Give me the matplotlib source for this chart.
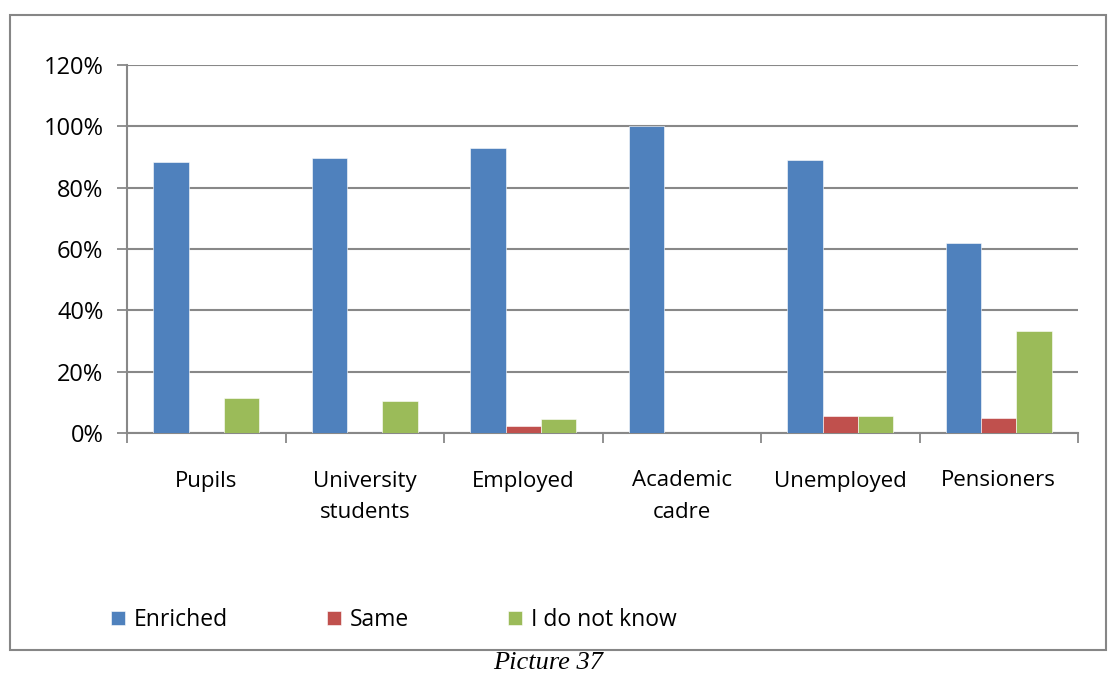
""" Opinion on enrichment by respondent group (Picture 37). """

import numpy as np
import matplotlib.pyplot as plt
from matplotlib.patches import Rectangle
from matplotlib.ticker import PercentFormatter, FixedLocator

categories = ['Pupils', 'University\nstudents', 'Employed', 'Academic\ncadre',
              'Unemployed', 'Pensioners']
enriched = [88.5, 89.7, 92.9, 100.0, 88.9, 61.9]
same = [0.0, 0.0, 2.4, 0.0, 5.6, 4.8]
dont_know = [11.5, 10.3, 4.7, 0.0, 5.6, 33.3]
series_names = ['Enriched', 'Same', 'I do not know']
colors = ['#4f81bd', '#c0504d', '#9bbb59']

plt.rcParams['font.family'] = ['Open Sans', 'DejaVu Sans']
grid_color = '#888888'

fig = plt.figure(figsize=(11.18, 6.73), dpi=100)
ax = fig.add_axes([127 / 1118, 1 - 433 / 673, 951 / 1118, 368 / 673])

x = np.arange(len(categories))
width = 0.222
for i, (vals, name, col) in enumerate(zip([enriched, same, dont_know], series_names, colors)):
    ax.bar(x + (i - 1) * width, np.array(vals) / 100, width, color=col, label=name,
           edgecolor='white', linewidth=0.4, zorder=3)

ax.set_xlim(-0.5, len(categories) - 0.5)
ax.set_ylim(0, 1.2)
ax.set_yticks(np.arange(0, 1.21, 0.2))
ax.yaxis.set_major_formatter(PercentFormatter(1.0, decimals=0))
ax.grid(axis='y', color=grid_color, linewidth=1.5, zorder=0)

# category boundaries as ticks, labels centred via minor ticks
ax.xaxis.set_major_locator(FixedLocator(np.arange(-0.5, len(categories), 1.0)))
ax.xaxis.set_minor_locator(FixedLocator(x))
ax.set_xticklabels([''] * (len(categories) + 1))
ax.set_xticklabels(categories, minor=True, linespacing=1.65)
ax.tick_params(axis='x', which='major', length=7, width=1.3, color=grid_color)
ax.tick_params(axis='x', which='minor', length=0, pad=27, labelsize=16)
ax.tick_params(axis='y', length=7, width=1.3, color=grid_color, labelsize=17, pad=10)

for side in ['top', 'right']:
    ax.spines[side].set_visible(False)
for side in ['left', 'bottom']:
    ax.spines[side].set_color(grid_color)
    ax.spines[side].set_linewidth(1.5)

leg = fig.legend(loc='center left', bbox_to_anchor=(90 / 1118, 1 - 620 / 673), ncol=3,
                 frameon=False, fontsize=16.5, handlelength=0.62, handleheight=0.62,
                 handletextpad=0.4, columnspacing=4.3)

fig.patches.append(Rectangle((10 / 1118, 1 - 650 / 673), 1096 / 1118, 635 / 673,
                             transform=fig.transFigure, fill=False,
                             edgecolor='#868686', linewidth=1.5))

fig.text(548 / 1118, 1 - 663 / 673, 'Picture 37', ha='center', va='center',
         fontsize=19, style='italic', family='Liberation Serif')

fig.savefig('out.png', dpi=100)
